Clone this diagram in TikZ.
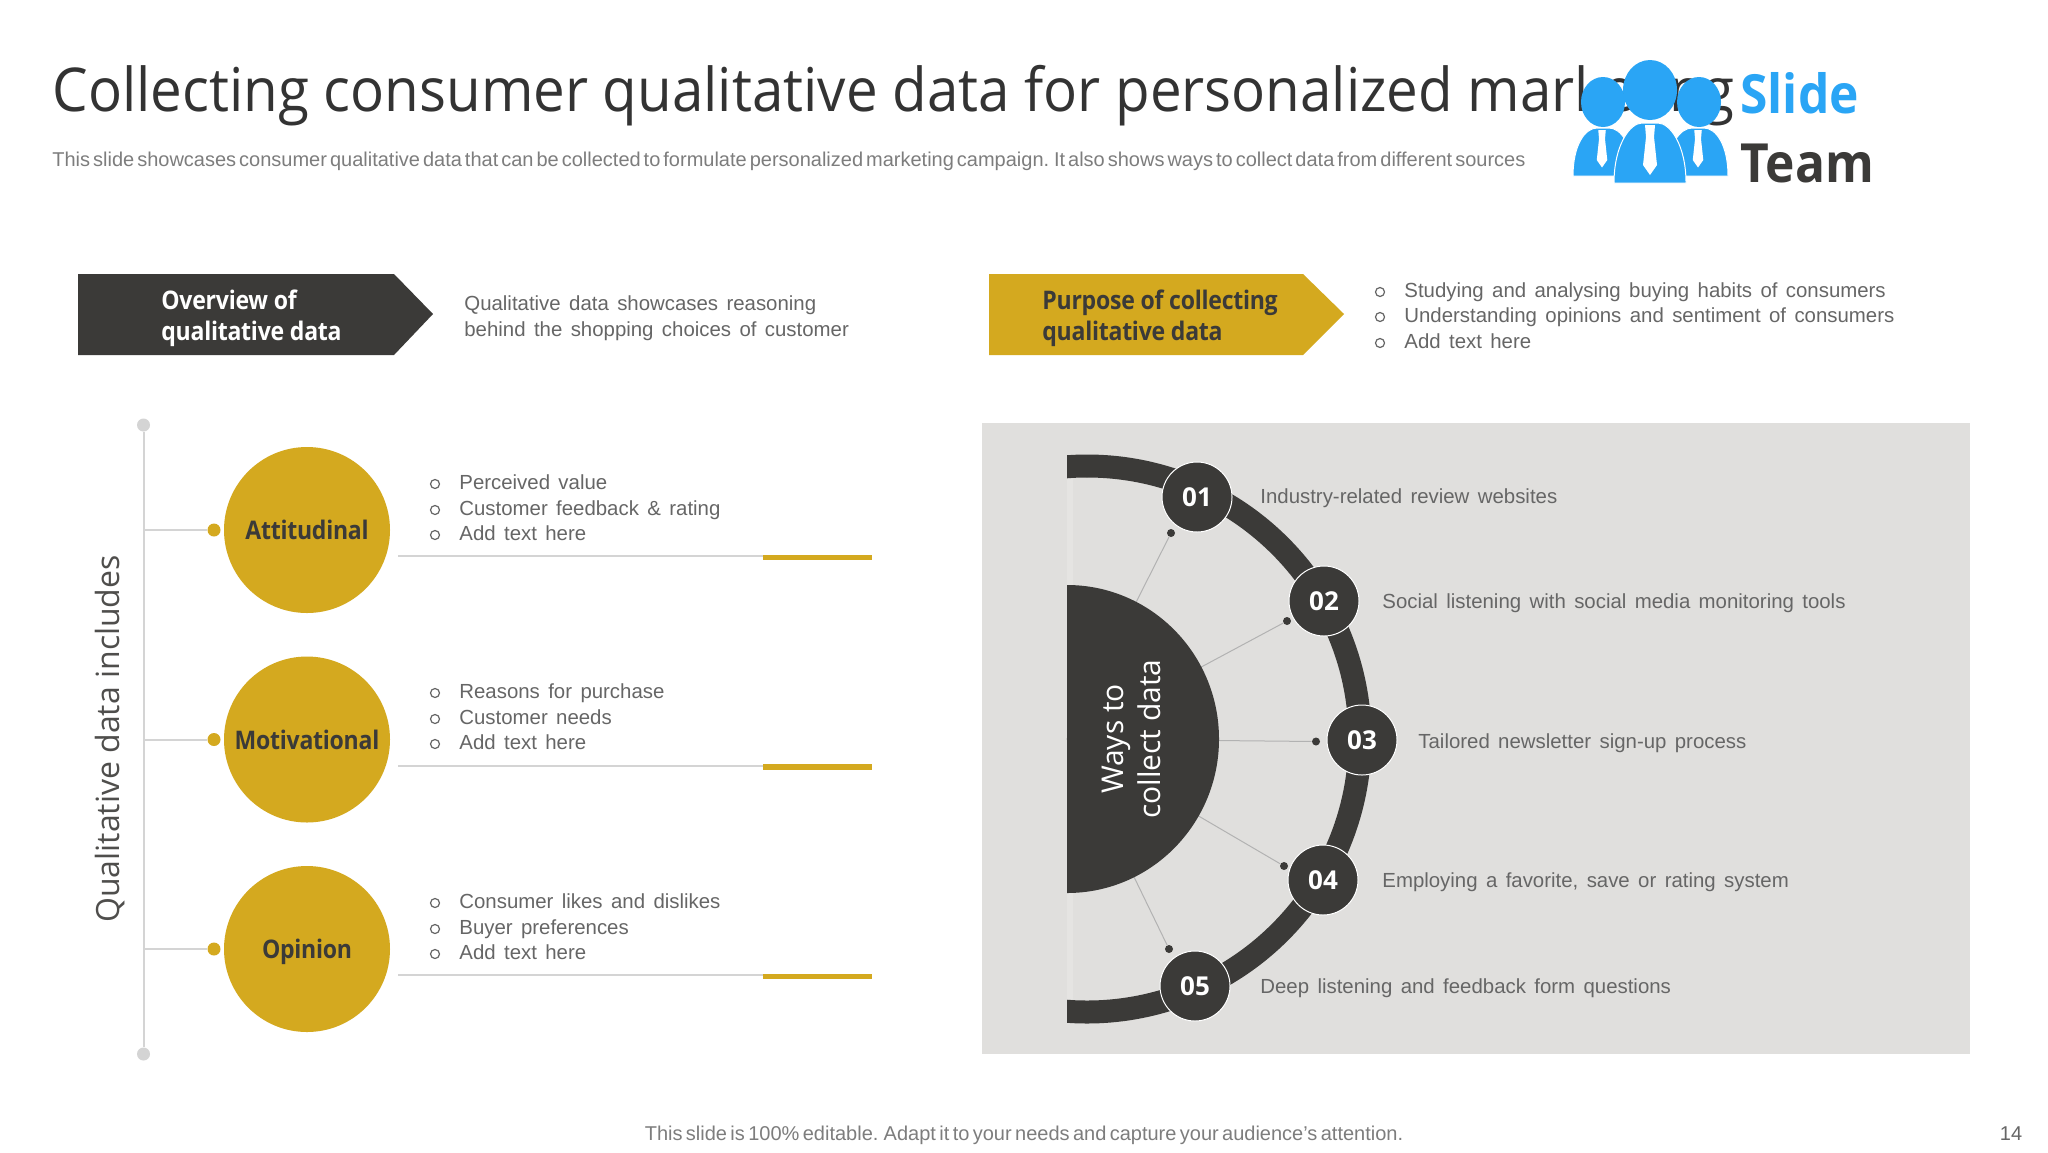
\documentclass[tikz,border=0pt]{standalone}
\usepackage{fontspec}
\setmainfont{Liberation Sans}
\newfontfamily\headfont{Open Sans}
\newfontfamily\titlefont[FakeStretch=.935]{Open Sans}
\newfontfamily\tightfont[FakeStretch=.9,LetterSpace=-1]{Open Sans}
\newfontfamily\logofont[FakeStretch=.92]{Open Sans}
\newcommand\wordgap[1]{\spaceskip #1\relax}
\definecolor{goldc}{HTML}{D4A91F}
\definecolor{darkc}{HTML}{3B3A38}
\definecolor{panelc}{HTML}{E0DFDD}
\definecolor{bodyc}{HTML}{666666}
\definecolor{rulec}{HTML}{D4D4D4}
\definecolor{bluec}{HTML}{2AA5F5}
\tikzset{
  bodytext/.style={anchor=base west,inner sep=0pt,text=bodyc,font=\fontsize{10.2}{12}\selectfont\wordgap{4.2pt}},
  bulletdot/.style={circle,draw=bodyc,line width=.6pt,minimum size=4.5pt,inner sep=0pt},
  typenode/.style={circle,fill=goldc,minimum size=83pt,inner sep=0pt,text=darkc,text height=9.5pt,text depth=0pt,font=\tightfont\bfseries\fontsize{12.8}{16}\selectfont},
  numnode/.style={circle,fill=darkc,draw=white,line width=.5pt,minimum size=35pt,inner sep=0pt,text=white,font=\headfont\bfseries\fontsize{13}{16}\selectfont},
  golddot/.style={circle,fill=goldc,minimum size=6.5pt,inner sep=0pt},
  greydot/.style={circle,fill=rulec,minimum size=6.5pt,inner sep=0pt},
  darkdot/.style={circle,fill=darkc,minimum size=4pt,inner sep=0pt},
  headtext/.style={anchor=west,inner sep=0pt,align=left,font=\tightfont\bfseries\fontsize{12.8}{15.5}\selectfont},
  logobody/.style={fill=bluec,draw=white,line width=.5pt},
}
\begin{document}
\begin{tikzpicture}[x=.5pt,y=-.5pt]
\useasboundingbox (0,0) rectangle (2048,1152);
\fill[white] (0,0) rectangle (2048,1152);
% title
\node (title)[anchor=base west,inner sep=0pt,text=black!80,font=\titlefont\fontsize{30.2}{36}\selectfont] at (52,111) {Collecting consumer qualitative data for personalized marketing};
\node (subtitle)[bodytext,font=\fontsize{10}{12}\selectfont\wordgap{1.5pt},text=bodyc!85] at (52,166) {This slide showcases consumer qualitative data that can be collected to formulate personalized marketing campaign. It also shows ways to collect data from different sources};
% logo
\fill[logobody] (1573,176) .. controls (1573,145) and (1585,128) .. (1597,128) -- (1609,128) .. controls (1621,128) and (1633,145) .. (1633,176) -- cycle;
\fill[logobody] (1667,176) .. controls (1667,145) and (1680,128) .. (1692,128) -- (1704,128) .. controls (1716,128) and (1728,145) .. (1728,176) -- cycle;
\fill[logobody] (1614,183) .. controls (1614,145) and (1630,123) .. (1642,123) -- (1658,123) .. controls (1670,123) and (1686,145) .. (1686,183) -- cycle;
\fill[bluec] (1603,102) ellipse (22 and 25);
\fill[bluec] (1699,102) ellipse (22 and 25);
\fill[bluec] (1650,90) ellipse (27 and 30);
\foreach \cx/\cy/\ts in {1602/130/.75,1698/130/.75,1650/125/1}
  \fill[white] (\cx-5*\ts,\cy) -- (\cx+5*\ts,\cy) -- (\cx+4*\ts,\cy+12*\ts) -- (\cx+7*\ts,\cy+40*\ts) -- (\cx,\cy+50*\ts) -- (\cx-7*\ts,\cy+40*\ts) -- (\cx-4*\ts,\cy+12*\ts) -- cycle;
\node (logoa)[anchor=base west,inner sep=0pt,text=bluec,font=\logofont\bfseries\fontsize{27}{30}\selectfont] at (1740,113) {Slide};
\node (logob)[anchor=base west,inner sep=0pt,text=darkc,font=\logofont\bfseries\fontsize{27}{30}\selectfont] at (1740,182) {Team};
% header arrows
\fill[darkc] (78,274) -- (394,274) -- (433,314) -- (394,355) -- (78,355) -- cycle;
\fill[goldc] (989,274) -- (1303,274) -- (1344,314) -- (1303,355) -- (989,355) -- cycle;
\node (overview)[headtext,text=white] at (161,318) {Overview of\\qualitative data};
\node (purpose)[headtext,text=darkc] at (1042,318) {Purpose of collecting\\qualitative data};
\node (overa)[bodytext] at (464,310) {Qualitative data showcases reasoning};
\node (overb)[bodytext] at (464,336) {behind the shopping choices of customer};
\foreach \y/\txt in {297/Studying and analysing buying habits of consumers,322/Understanding opinions and sentiment of consumers,348/Add text here}{
  \node (pb\y)[bulletdot] at (1380,\y-5) {};
  \node (pt\y)[bodytext] at (1404,\y) {\txt};
}
% left column
\node (top)[greydot] at (143.5,425) {};
\node (bot)[greydot] at (143.5,1054) {};
\draw[rulec,line width=1pt] (top) -- (bot);
\foreach \name/\y/\txt in {att/530/Attitudinal,mot/739.5/Motivational,opi/949/Opinion}{
  \node (\name)[typenode] at (307,\y) {\txt};
  \node (\name dot)[golddot] at (214,\y) {};
  \coordinate (\name tap) at (143.5,\y);
  \draw[rulec,line width=1pt] (\name tap) -- (\name dot);
  \coordinate (\name a) at (398,\y+26);
  \coordinate (\name b) at (872,\y+26);
  \coordinate (\name c) at (763,\y+27.5);
  \coordinate (\name d) at (872,\y+27.5);
  \draw[rulec,line width=1pt] (\name a) -- (\name b);
  \draw[goldc,line width=2.6pt] (\name c) -- (\name d);
}
\foreach \y/\txt in {489/Perceived value,515/Customer feedback \& rating,540/Add text here,698/Reasons for purchase,724/Customer needs,749/Add text here,908/Consumer likes and dislikes,934/Buyer preferences,959/Add text here}{
  \node (lb\y)[bulletdot] at (435,\y-5) {};
  \node (lt\y)[bodytext] at (459,\y) {\txt};
}
\node (axis)[rotate=90,inner sep=0pt,text=darkc!90,font=\headfont\fontsize{16}{20}\selectfont] at (110,739) {Qualitative data includes};
% right panel
\fill[panelc] (982,423) rectangle (1970,1054);
\fill[panelc!85!white] (1067,479) rectangle (1073,999);
\coordinate (hub) at (1067,739);
\begin{scope}
  \clip (1067,423) rectangle (1500,1054);
  \draw[darkc,line width=11.5pt] (1087,466) arc[start angle=-90,end angle=-100,radius=273];
  \draw[darkc,line width=11.5pt] (1087,466) arc[start angle=-90,end angle=100,radius=273];
\end{scope}
\foreach \n/\px/\py/\dx/\dy in {1/1197/497/1171/533,2/1324/601/1287/621,3/1362/740/1316/741.5,4/1323/880/1284/866,5/1195/986/1169/949}{
  \node (dot\n)[darkdot] at (\dx,\dy) {};
  \node (num\n)[numnode] at (\px,\py) {0\n};
  \draw[black!30,line width=.5pt] (dot\n) -- (hub);
}
\fill[darkc] (1067,585) arc[start angle=-90,end angle=90,x radius=152,y radius=154] -- cycle;
\node (ways)[rotate=90,inner sep=0pt,align=center,text=white,font=\headfont\fontsize{15}{18.5}\selectfont] at (1131,739) {Ways to\\collect data};
\foreach \x/\y/\txt in {1260/503/Industry-related review websites,1382/608/Social listening with social media monitoring tools,1418/748/Tailored newsletter sign-up process,1382/887/{Employing a favorite, save or rating system},1260/993/Deep listening and feedback form questions}
  \node (w\y)[bodytext] at (\x,\y) {\txt};
% footer
\node (foot)[inner sep=0pt,anchor=base,text=bodyc!85,font=\fontsize{10}{12}\selectfont\wordgap{1.7pt}] at (1024,1140) {This slide is 100\% editable. Adapt it to your needs and capture your audience's attention.};
\node (page)[inner sep=0pt,anchor=base,text=bodyc,font=\fontsize{10}{12}\selectfont] at (2011,1140) {14};
\end{tikzpicture}
\end{document}
